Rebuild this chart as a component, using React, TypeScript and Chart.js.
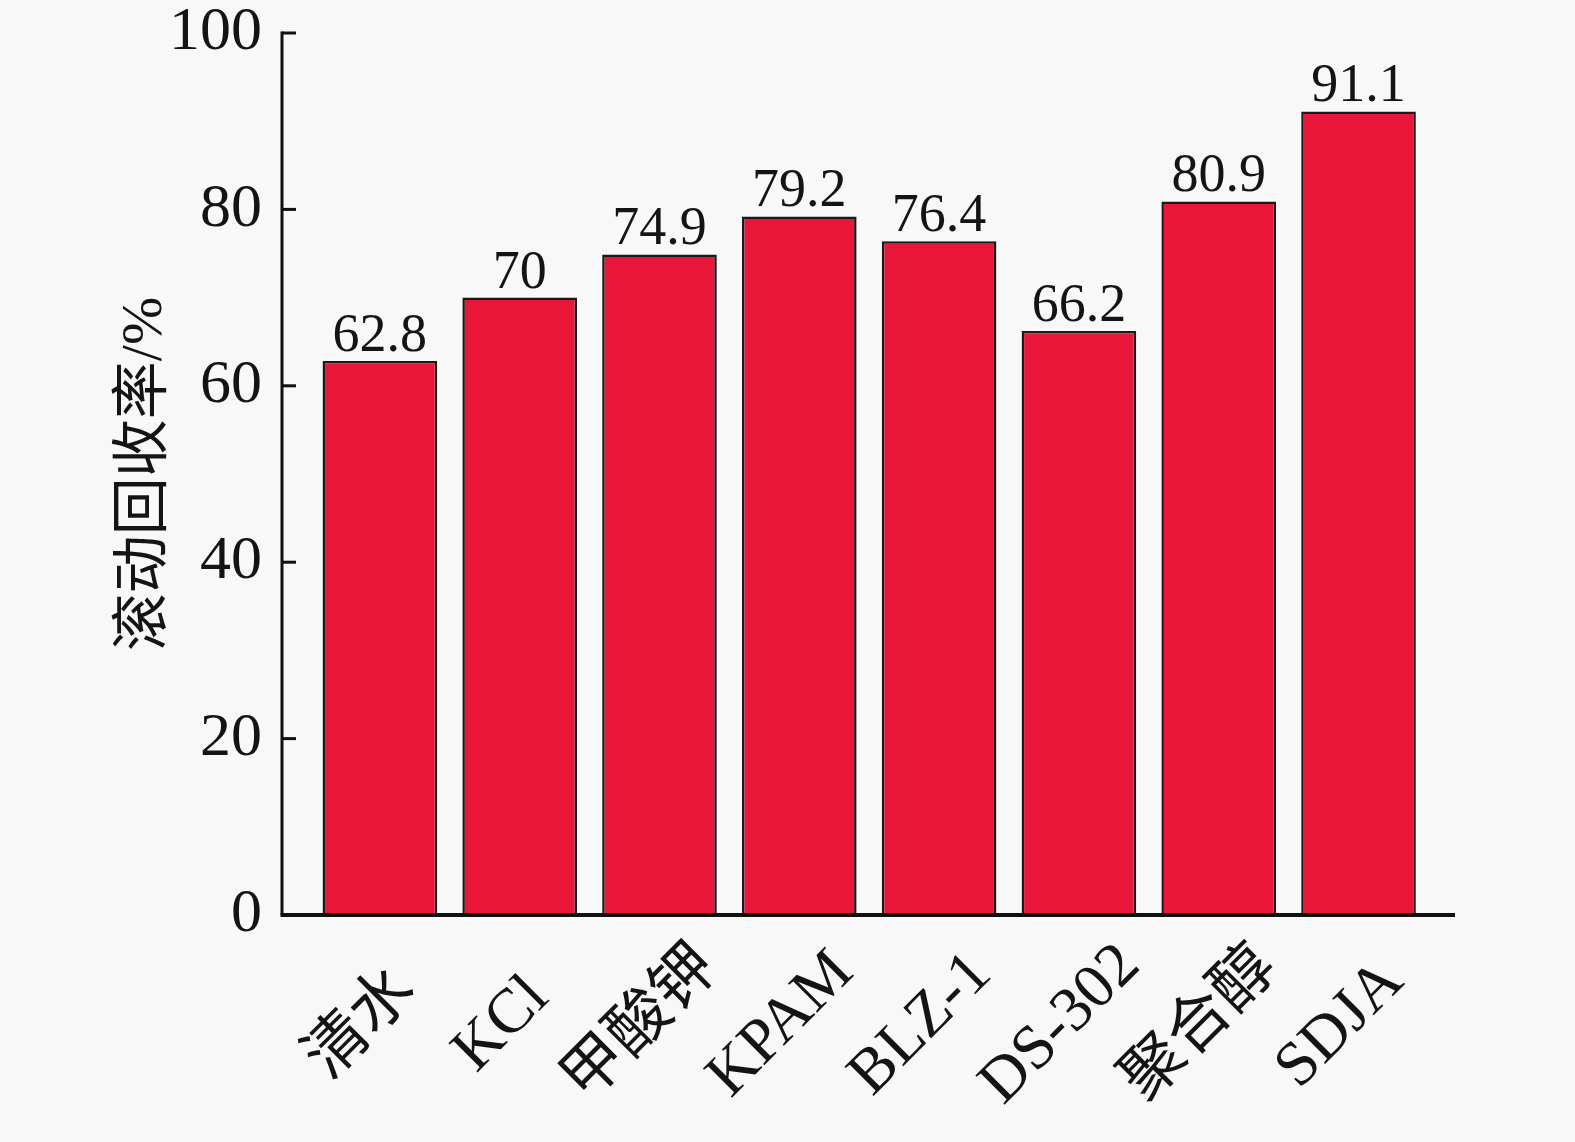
import React, { useEffect, useRef } from 'react';
import { Chart, registerables } from 'chart.js';

Chart.register(...registerables);

const categories = ['清水', 'KCl', '甲酸钾', 'KPAM', 'BLZ-1', 'DS-302', '聚合醇', 'SDJA'];
const values = [62.8, 70, 74.9, 79.2, 76.4, 66.2, 80.9, 91.1];
const valueLabels = ['62.8', '70', '74.9', '79.2', '76.4', '66.2', '80.9', '91.1'];
const yTicks = [0, 20, 40, 60, 80, 100];
const yTitle = '滚动回收率/%';

const FONT = '"Liberation Serif", "Noto Sans CJK SC", serif';
const TEXT = '#141414';
const BG = '#f8f8f8';

const bgPlugin = {
  id: 'bg',
  beforeDraw(chart: any) {
    const { ctx, width, height } = chart;
    ctx.save();
    ctx.fillStyle = BG;
    ctx.fillRect(0, 0, width, height);
    ctx.restore();
  },
};

const axesPlugin = {
  id: 'axesDraw',
  afterDraw(chart: any) {
    const { ctx, chartArea } = chart;
    const y = chart.scales.y;
    const x = chart.scales.x;
    ctx.save();
    ctx.strokeStyle = '#111';
    ctx.lineCap = 'butt';
    ctx.lineWidth = 3;
    ctx.beginPath();
    ctx.moveTo(chartArea.left, y.getPixelForValue(yTicks[yTicks.length - 1]) - 1.5);
    ctx.lineTo(chartArea.left, chartArea.bottom);
    ctx.stroke();
    yTicks.forEach((t) => {
      const py = y.getPixelForValue(t);
      ctx.beginPath();
      ctx.moveTo(chartArea.left, py);
      ctx.lineTo(chartArea.left + 14, py);
      ctx.stroke();
    });
    ctx.lineWidth = 4;
    ctx.beginPath();
    ctx.moveTo(chartArea.left - 1.5, chartArea.bottom);
    ctx.lineTo(chartArea.right, chartArea.bottom);
    ctx.stroke();

    // category labels, rotated 45°, centred under each bar
    ctx.fillStyle = TEXT;
    ctx.font = `63px ${FONT}`;
    ctx.textAlign = 'center';
    ctx.textBaseline = 'middle';
    categories.forEach((c, i) => {
      const px = x.getPixelForValue(i);
      ctx.save();
      ctx.translate(px - 18, chartArea.bottom + 110);
      ctx.rotate(-Math.PI / 4);
      ctx.fillText(c, 0, 0);
      ctx.restore();
    });

    // y title
    ctx.font = `58px ${FONT}`;
    ctx.translate(chartArea.left - 136, (chartArea.top + chartArea.bottom) / 2);
    ctx.rotate(-Math.PI / 2);
    ctx.fillText(yTitle, 0, 0);
    ctx.restore();
  },
};

const valuePlugin = {
  id: 'valueLabels',
  afterDatasetsDraw(chart: any) {
    const { ctx } = chart;
    const meta = chart.getDatasetMeta(0);
    ctx.save();
    ctx.fillStyle = TEXT;
    ctx.font = `54px ${FONT}`;
    ctx.textAlign = 'center';
    ctx.textBaseline = 'alphabetic';
    meta.data.forEach((bar: any, i: number) => {
      ctx.fillText(valueLabels[i], bar.x, bar.y - 10);
    });
    ctx.restore();
  },
};

export default function App() {
  const ref = useRef<HTMLCanvasElement | null>(null);

  useEffect(() => {
    document.body.style.margin = '0';
    let chart: any = null;
    let cancelled = false;
    const fontsReady = Promise.all([
      (document as any).fonts.load('62px "Liberation Serif"', '0123456789.KClPAMBLZDSJ-/%'),
      (document as any).fonts.load('58px "Noto Sans CJK SC"', '滚动回收率清水甲酸钾聚合醇'),
    ]).catch(() => undefined);
    fontsReady.then(() => {
      const canvas = ref.current;
      if (cancelled || !canvas) return;
      chart = new Chart(canvas, {
        type: 'bar',
        data: {
          datasets: [
            {
              data: values.map((v, i) => ({ x: i, y: v })),
              backgroundColor: '#E9163A',
              borderColor: '#1a1a1a',
              borderWidth: 2.5,
              borderSkipped: 'bottom',
              categoryPercentage: 1,
              barPercentage: 0.82,
            },
          ],
        },
        options: {
          responsive: false,
          animation: false,
          devicePixelRatio: 1,
          layout: { padding: { top: 33, right: 120, left: 0, bottom: 0 } },
          plugins: {
            legend: { display: false },
            tooltip: { enabled: false },
          },
          scales: {
            x: {
              type: 'linear',
              offset: false,
              min: -0.7,
              max: 7.69,
              grid: { display: false, drawTicks: false, offset: false },
              border: { display: false },
              afterBuildTicks: (s: any) => {
                s.ticks = categories.map((_, i) => ({ value: i }));
              },
              ticks: {
                display: false,
                autoSkip: false,
              },
              afterFit: (s: any) => {
                s.height = 227;
                s.paddingLeft = 0;
                s.paddingRight = 0;
              },
            },
            y: {
              min: 0,
              max: 100,
              grid: { display: false, drawTicks: false },
              border: { display: false },
              afterBuildTicks: (s: any) => {
                s.ticks = yTicks.map((v) => ({ value: v }));
              },
              ticks: {
                padding: 20,
                color: TEXT,
                font: { family: FONT, size: 62 },
              },
              afterFit: (s: any) => {
                s.width = 282;
                s.paddingTop = 0;
                s.paddingBottom = 0;
              },
            },
          },
        },
        plugins: [bgPlugin, axesPlugin, valuePlugin],
      });
    });
    return () => {
      cancelled = true;
      if (chart) chart.destroy();
    };
  }, []);

  return (
    <div style={{ width: 1575, height: 1142 }}>
      <canvas ref={ref} width={1575} height={1142} style={{ display: 'block' }} />
    </div>
  );
}
